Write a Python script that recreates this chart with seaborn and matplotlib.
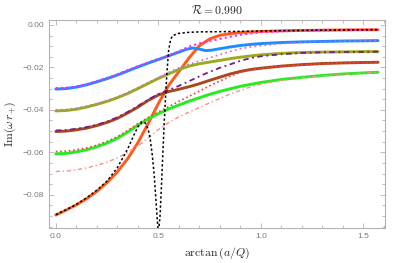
import matplotlib
matplotlib.use("Agg")
import matplotlib.pyplot as plt
import seaborn as sns
from matplotlib.ticker import MultipleLocator

# =========================
# DATA
# =========================
blue_x = [0, 0.05, 0.1, 0.15, 0.2, 0.25, 0.3, 0.35, 0.4, 0.45, 0.5, 0.55, 0.6, 0.64, 0.67, 0.7, 0.73,
          0.76, 0.8, 0.85, 0.9, 0.95, 1.0, 1.1, 1.2, 1.3, 1.4, 1.5, 1.571]
blue_y = [-0.0302, -0.0300, -0.0293, -0.0282, -0.0268, -0.0253, -0.0236, -0.0217, -0.0198, -0.0180,
          -0.0163, -0.0146, -0.0128, -0.0114, -0.0109, -0.0114, -0.0121, -0.0119, -0.0112, -0.0104,
          -0.0097, -0.0092, -0.0088, -0.0083, -0.0080, -0.0078, -0.0076, -0.0075, -0.0074]

olive_x = [0, 0.05, 0.1, 0.15, 0.2, 0.25, 0.3, 0.35, 0.4, 0.45, 0.5, 0.55, 0.6, 0.65, 0.7, 0.75, 0.8,
           0.85, 0.9, 0.95, 1.0, 1.1, 1.2, 1.3, 1.4, 1.5, 1.571]
olive_y = [-0.0405, -0.0403, -0.0397, -0.0387, -0.0374, -0.0360, -0.0343, -0.0323, -0.0300, -0.0276,
           -0.0252, -0.0231, -0.0210, -0.0194, -0.0183, -0.0175, -0.0167, -0.0159, -0.0152, -0.0146,
           -0.0141, -0.0134, -0.0130, -0.0128, -0.0127, -0.0126, -0.0126]

brown_x = [0, 0.05, 0.1, 0.15, 0.2, 0.25, 0.3, 0.35, 0.4, 0.45, 0.5, 0.55, 0.6, 0.65, 0.7, 0.75, 0.8,
           0.85, 0.9, 0.95, 1.0, 1.1, 1.2, 1.3, 1.4, 1.5, 1.571]
brown_y = [-0.0502, -0.0500, -0.0494, -0.0486, -0.0474, -0.0459, -0.0440, -0.0415, -0.0387, -0.0356,
           -0.0330, -0.0314, -0.0303, -0.0291, -0.0277, -0.0261, -0.0246, -0.0231, -0.0219, -0.0210,
           -0.0204, -0.0194, -0.0187, -0.0182, -0.0179, -0.0177, -0.0176]

green_x = [0, 0.05, 0.1, 0.15, 0.2, 0.25, 0.3, 0.35, 0.4, 0.45, 0.5, 0.55, 0.6, 0.65, 0.7, 0.75, 0.8,
           0.9, 1.0, 1.1, 1.2, 1.3, 1.4, 1.5, 1.571]
green_y = [-0.0607, -0.0605, -0.0598, -0.0588, -0.0574, -0.0556, -0.0534, -0.0505, -0.0472, -0.0443,
           -0.0418, -0.0396, -0.0377, -0.0359, -0.0343, -0.0327, -0.0313, -0.0289, -0.0271, -0.0257,
           -0.0247, -0.0238, -0.0231, -0.0226, -0.0223]

orange_x = [0, 0.05, 0.1, 0.15, 0.2, 0.25, 0.3, 0.35, 0.4, 0.45, 0.5, 0.55, 0.6, 0.65, 0.7, 0.75,
            0.8, 0.85, 0.9, 1.0, 1.1, 1.2, 1.3, 1.4, 1.5, 1.571]
orange_y = [-0.0895, -0.0872, -0.0847, -0.0818, -0.0784, -0.0742, -0.0692, -0.0630, -0.0555, -0.0465,
            -0.0370, -0.0285, -0.0220, -0.0155, -0.0098, -0.0066, -0.0049, -0.0041, -0.0036, -0.0031,
            -0.0028, -0.0026, -0.0025, -0.0024, -0.0023, -0.0023]

magenta_x = [0, 0.05, 0.1, 0.15, 0.2, 0.25, 0.3, 0.35, 0.4, 0.45, 0.5, 0.55, 0.6, 0.65, 0.7, 0.75,
             0.8, 0.85, 0.9, 0.95, 1.0, 1.1, 1.2, 1.4, 1.571]
magenta_y = [-0.0298, -0.0296, -0.0290, -0.0279, -0.0265, -0.0250, -0.0233, -0.0214, -0.0195, -0.0177,
             -0.0160, -0.0144, -0.0125, -0.0102, -0.0087, -0.0076, -0.0066, -0.0056, -0.0047, -0.0040,
             -0.0035, -0.0030, -0.0027, -0.0024, -0.0023]

orchid_x = [0, 0.05, 0.1, 0.15, 0.2, 0.25, 0.3, 0.35, 0.4, 0.45, 0.5, 0.55, 0.6, 0.65, 0.7, 0.75,
            0.8, 0.85, 0.9, 0.95, 1.0, 1.1, 1.2, 1.3, 1.4, 1.571]
orchid_y = [-0.0400, -0.0398, -0.0392, -0.0382, -0.0370, -0.0356, -0.0339, -0.0319, -0.0296, -0.0272,
            -0.0248, -0.0224, -0.0202, -0.0185, -0.0170, -0.0155, -0.0140, -0.0125, -0.0112, -0.0104,
            -0.0098, -0.0088, -0.0082, -0.0079, -0.0077, -0.0074]

purple_x = [0, 0.05, 0.1, 0.15, 0.2, 0.25, 0.3, 0.35, 0.4, 0.45, 0.5, 0.55, 0.6, 0.65, 0.7, 0.75,
            0.8, 0.85, 0.9, 0.95, 1.0, 1.1, 1.2, 1.3, 1.4, 1.571]
purple_y = [-0.0497, -0.0495, -0.0489, -0.0481, -0.0470, -0.0455, -0.0435, -0.0410, -0.0382, -0.0352,
            -0.0325, -0.0307, -0.0287, -0.0265, -0.0242, -0.0221, -0.0202, -0.0186, -0.0169, -0.0156,
            -0.0148, -0.0138, -0.0132, -0.0129, -0.0128, -0.0126]

red_x = [0, 0.05, 0.1, 0.15, 0.2, 0.25, 0.3, 0.35, 0.4, 0.45, 0.5, 0.55, 0.6, 0.65, 0.7, 0.75,
         0.8, 0.85, 0.9, 0.95, 1.0, 1.1, 1.2, 1.3, 1.4, 1.571]
red_y = [-0.0596, -0.0594, -0.0588, -0.0579, -0.0566, -0.0548, -0.0526, -0.0497, -0.0465, -0.0436,
         -0.0410, -0.0385, -0.0360, -0.0336, -0.0312, -0.0287, -0.0264, -0.0242, -0.0224, -0.0212,
         -0.0205, -0.0195, -0.0188, -0.0183, -0.0180, -0.0176]

pink_x = [0, 0.05, 0.1, 0.15, 0.2, 0.25, 0.3, 0.35, 0.4, 0.45, 0.5, 0.55, 0.6, 0.65, 0.7, 0.75,
          0.8, 0.85, 0.9, 0.95, 1.0, 1.1, 1.2, 1.3, 1.4, 1.571]
pink_y = [-0.0690, -0.0688, -0.0682, -0.0673, -0.0661, -0.0646, -0.0626, -0.0600, -0.0570, -0.0532,
          -0.0493, -0.0460, -0.0433, -0.0410, -0.0389, -0.0367, -0.0346, -0.0326, -0.0308, -0.0292,
          -0.0279, -0.0261, -0.0249, -0.0240, -0.0233, -0.0223]

black_x = [0, 0.05, 0.1, 0.15, 0.2, 0.25, 0.3, 0.35, 0.38, 0.4, 0.42, 0.435, 0.45, 0.46, 0.47, 0.48,
           0.49, 0.5, 0.508, 0.515, 0.522, 0.528, 0.535, 0.542, 0.55, 0.56, 0.57, 0.6, 0.65, 0.7,
           0.8, 1.0, 1.2, 1.4, 1.571]
black_y = [-0.0893, -0.0870, -0.0845, -0.0814, -0.0778, -0.0735, -0.0672, -0.0585, -0.0520, -0.0480,
           -0.0458, -0.0460, -0.0490, -0.0535, -0.0610, -0.0710, -0.0850, -0.0990, -0.0900, -0.0760,
           -0.0600, -0.0470, -0.0340, -0.0220, -0.0120, -0.0068, -0.0050, -0.0040, -0.0035, -0.0033,
           -0.0032, -0.0029, -0.0026, -0.0024, -0.0023]

# =========================
# STYLE
# =========================
sns.set_theme(style="ticks")
plt.rcParams["font.family"] = ["Liberation Sans", "DejaVu Sans"]
plt.rcParams["mathtext.fontset"] = "cm"

frame = "#b4b4b4"
fig = plt.figure(figsize=(4.07, 2.63), dpi=100)
ax = fig.add_axes([0.120, 0.133, 0.826, 0.791])

# solid curves
solids = [
    (orange_x, orange_y, "#ff5a1a"),
    (green_x, green_y, "#22ee22"),
    (brown_x, brown_y, "#a8481c"),
    (olive_x, olive_y, "#98ac1c"),
    (blue_x, blue_y, "#1e8cff"),
]
for xs, ys, c in solids:
    sns.lineplot(x=xs, y=ys, ax=ax, color=c, linewidth=2.1, estimator=None)

# dotted / dash-dot curves
dotted = [
    (pink_x, pink_y, "#ff8c8c", (0, (3, 2, 1, 2)), 1.0),
    (red_x, red_y, "#ff3c3c", (0, (1, 1.6)), 1.2),
    (purple_x, purple_y, "#7a1a8a", (0, (3, 2, 1, 2)), 1.3),
    (orchid_x, orchid_y, "#cc66dd", (0, (1, 2)), 1.2),
    (magenta_x, magenta_y, "#ff22ff", (0, (1, 1.5)), 1.5),
    (black_x, black_y, "black", (0, (1.5, 1.5)), 1.1),
]
for xs, ys, c, ls, lw in dotted:
    sns.lineplot(x=xs, y=ys, ax=ax, color=c, linestyle=ls, linewidth=lw, estimator=None)

# =========================
# AXES
# =========================
ax.set_xlim(-0.034, 1.605)
ax.set_ylim(-0.0956, 0.0023)
ax.xaxis.set_major_locator(MultipleLocator(0.5))
ax.xaxis.set_minor_locator(MultipleLocator(0.1))
ax.yaxis.set_major_locator(MultipleLocator(0.02))
ax.yaxis.set_minor_locator(MultipleLocator(0.005))
ax.tick_params(which="both", direction="in", top=True, right=True, color=frame,
               labelsize=6, labelcolor="#7a7a7a", width=0.6)
ax.tick_params(which="major", length=3.5)
ax.tick_params(which="minor", length=2)
for s in ax.spines.values():
    s.set_color(frame)
    s.set_linewidth(0.8)

ax.set_title(r"$\mathcal{R} = 0.990$", fontsize=8.5, pad=4)
ax.set_xlabel(r"$\mathrm{arctan}\,(a/Q)$", fontsize=8.5, labelpad=4)
ax.set_ylabel(r"$\mathrm{Im}(\omega\, r_{+})$", fontsize=8.5, labelpad=3)

plt.savefig("out.png", dpi=100)
